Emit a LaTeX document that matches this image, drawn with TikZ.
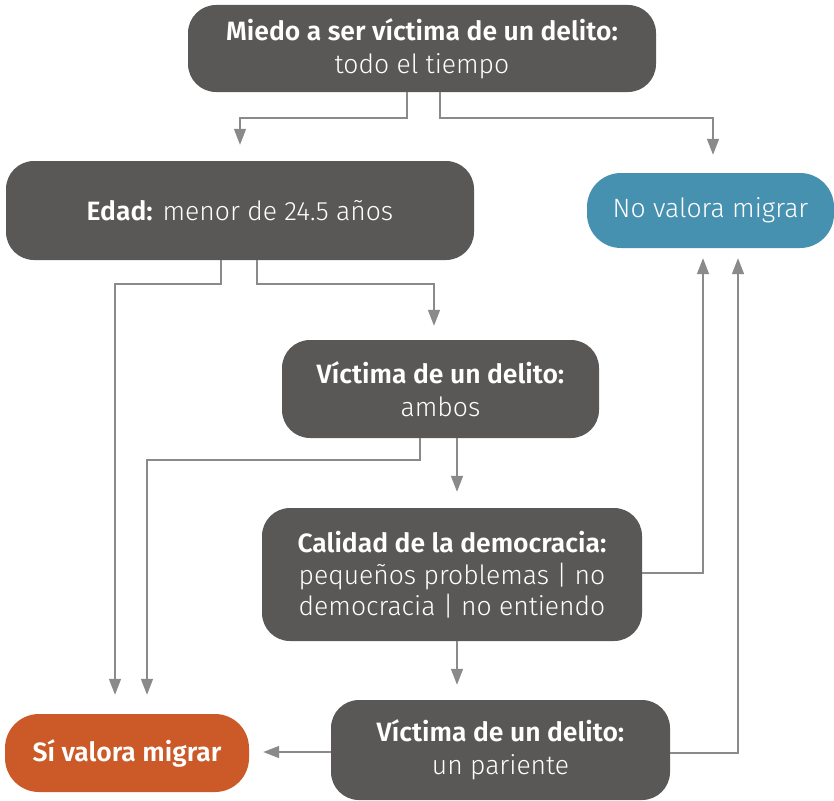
\documentclass[tikz,border=0pt]{standalone}
\usepackage{fontspec}
\setmainfont{Fira Sans}[UprightFont=* Light, BoldFont=* SemiBold]
\usetikzlibrary{arrows.meta}
\definecolor{boxgray}{HTML}{595856}
\definecolor{boxblue}{HTML}{4690B0}
\definecolor{boxorange}{HTML}{CB5A28}
\definecolor{linegray}{HTML}{8A8A8A}
\begin{document}
\begin{tikzpicture}[x=1pt,y=-1pt,
  box/.style={fill=boxgray, rounded corners=28pt, text=white, align=center,
    inner sep=0pt, font=\fontsize{26.5}{31}\selectfont},
  conn/.style={draw=linegray, line width=1.5pt,
    -{Triangle[length=16pt,width=12pt]}}]
\useasboundingbox (0,0) rectangle (834,800);
\node[box, minimum width=468pt, minimum height=87pt] (b1) at (422,48.5)
  {\textbf{Miedo a ser víctima de un delito:}\\[2pt]todo el tiempo};
\node[box, minimum width=468pt, minimum height=99pt] (b2) at (240,210.5)
  {\textbf{Edad:} menor de 24.5 años};
\node[box, fill=boxblue, rounded corners=34pt, minimum width=247pt, minimum height=75pt] (b3) at (710.5,210.5)
  {No valora migrar};
\node[box, minimum width=317pt, minimum height=98pt] (b4) at (440.5,389)
  {\textbf{Víctima de un delito:}\\[2pt]ambos};
\node[box, minimum width=380pt, minimum height=133pt] (b5) at (452,574.5)
  {\textbf{Calidad de la democracia:}\\[1pt]pequeños problemas | no\\democracia | no entiendo};
\node[box, fill=boxorange, rounded corners=34pt, minimum width=244pt, minimum height=78pt] (b6) at (127,753)
  {\textbf{Sí valora migrar}};
\node[box, minimum width=339pt, minimum height=100pt] (b7) at (500.5,750)
  {\textbf{Víctima de un delito:}\\[2pt]un pariente};
\draw[conn] ([xshift=-15pt]b1.south) -- ++(0,26) -| ([yshift=16pt]b2.north);
\draw[conn] ([xshift=18pt]b1.south) -- ++(0,26) -| ([xshift=2.5pt,yshift=18pt]b3.north);
\draw[conn] ([xshift=-19pt]b2.south) -- ++(0,24) -| ([xshift=-12pt,yshift=19pt]b6.north);
\draw[conn] ([xshift=17pt]b2.south) -- ++(0,24) -| ([xshift=-6.5pt,yshift=14pt]b4.north);
\draw[conn] ([xshift=-20.5pt]b4.south) -- ++(0,22) -| ([xshift=20pt,yshift=19pt]b6.north);
\draw[conn] ([xshift=16.5pt]b4.south) -- ([xshift=5pt,yshift=16pt]b5.north);
\draw[conn] ([xshift=5pt]b5.south) -- ([xshift=-43.5pt,yshift=15pt]b7.north);
\draw[conn] ([yshift=1.5pt]b5.east) -| ([xshift=-7.5pt,yshift=-10pt]b3.south);
\draw[conn] ([yshift=-3pt]b7.east) -| ([xshift=27.5pt,yshift=-10pt]b3.south);
\draw[conn] ([yshift=-2pt]b7.west) -- ([xshift=14pt,yshift=1pt]b6.east);
\end{tikzpicture}
\end{document}
